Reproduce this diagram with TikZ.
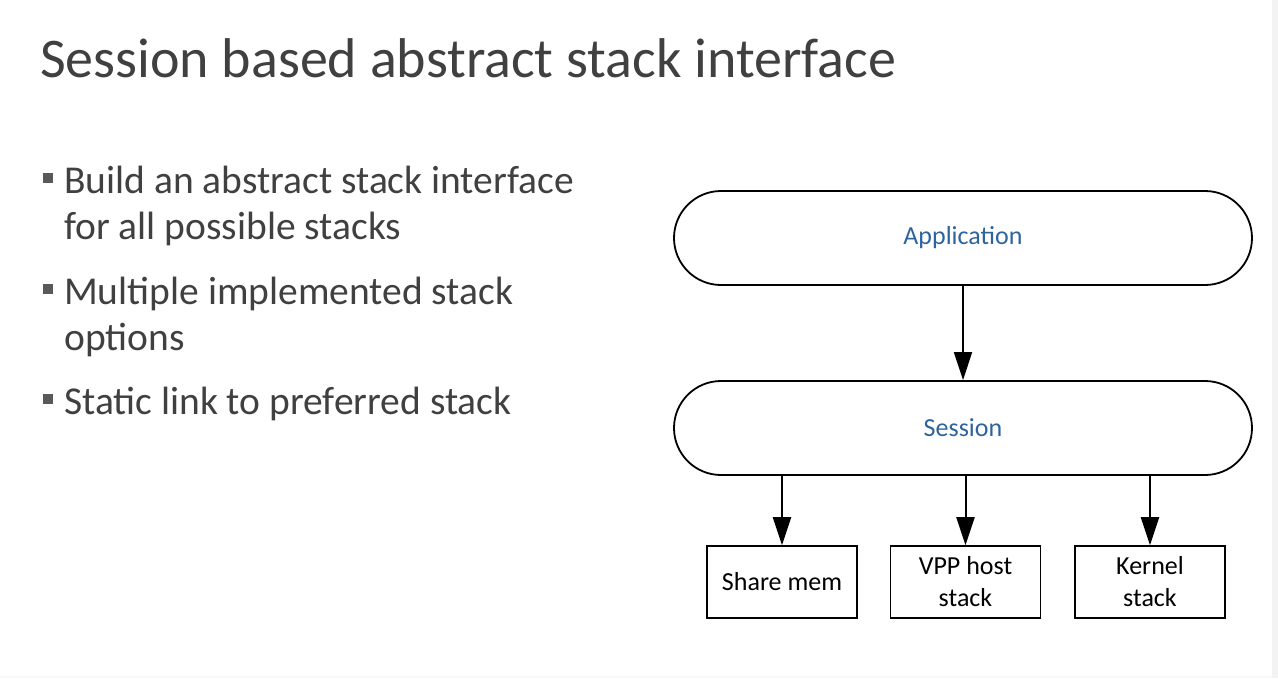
\documentclass[tikz,border=0pt]{standalone}
\usepackage{fontspec}
\setmainfont{Carlito}
\usetikzlibrary{arrows.meta}
\definecolor{slidegray}{HTML}{404040}
\definecolor{bulletgray}{HTML}{595959}
\definecolor{labelblue}{HTML}{2E649E}
\definecolor{edgegray}{HTML}{F3F3F3}
\definecolor{footgray}{HTML}{F8F8F8}
\begin{document}
\begin{tikzpicture}[x=1pt,y=-1pt,
  title/.style={anchor=base west,inner sep=0pt,text=slidegray,font=\fontsize{56}{60}\selectfont},
  bullettext/.style={anchor=base west,inner sep=0pt,text=slidegray,font=\fontsize{39.5}{44}\selectfont},
  bulletmark/.style={fill=bulletgray,draw=none,inner sep=0pt,minimum size=10pt},
  layer/.style={draw=black,line width=1.8pt,minimum width=578pt,minimum height=94pt,
    rounded corners=47pt,text=labelblue,font=\fontsize{26}{30}\selectfont},
  stackbox/.style={draw=black,line width=1.6pt,minimum width=150pt,minimum height=72pt,
    align=center,inner sep=0pt,font=\fontsize{26}{32}\selectfont},
  link/.style={line width=2pt,-{Triangle[length=28pt,width=18pt]}}]
  % page and its light right/bottom edge
  \fill[white] (0,0) rectangle (1278,678);
  \fill[edgegray] (1272,0) rectangle (1278,678);
  \fill[footgray] (0,676) rectangle (1272,678);
  \useasboundingbox (0,0) rectangle (1278,678);

  % heading
  \node[title] (head) at (40,77) {Session based abstract stack interface};

  % bullet list
  \node[bulletmark] (b1) at (48,178) {};
  \node[bullettext] (t1a) at (64,193) {Build an abstract stack interface};
  \node[bullettext] (t1b) at (64,239) {for all possible stacks};
  \node[bulletmark] (b2) at (48,289) {};
  \node[bullettext] (t2a) at (64,304) {Multiple implemented stack};
  \node[bullettext] (t2b) at (64,350) {options};
  \node[bulletmark] (b3) at (48,399) {};
  \node[bullettext] (t3) at (64,414) {Static link to preferred stack};

  % layered stack diagram
  \node[layer] (app) at (963,238) {Application};
  \node[layer] (sess) at (963,428) {Session};
  \node[stackbox] (shm) at (782,582) {Share mem};
  \node[stackbox] (vpp) at (965.5,582) {VPP host\\stack};
  \node[stackbox] (kern) at (1150,582) {Kernel\\stack};

  \draw[link] (app.south) -- (sess.north);
  \draw[link] (sess.south -| shm.north) -- (shm.north);
  \draw[link] (sess.south -| vpp.north) -- (vpp.north);
  \draw[link] (sess.south -| kern.north) -- (kern.north);
\end{tikzpicture}
\end{document}
